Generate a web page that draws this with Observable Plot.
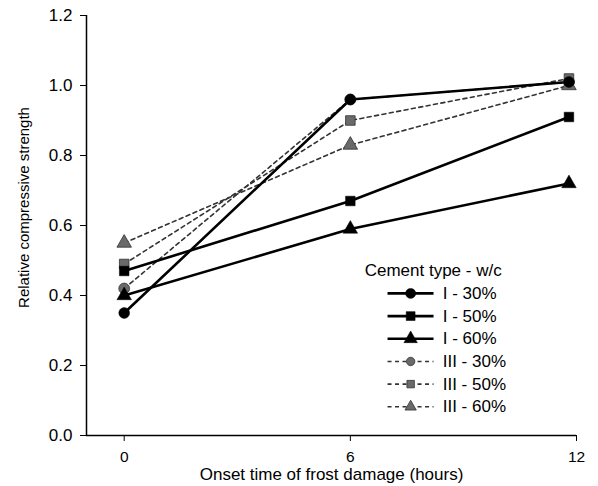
<!DOCTYPE html>
<html><head><meta charset="utf-8">
<script src="https://cdn.jsdelivr.net/npm/d3@7"></script>
<script src="https://cdn.jsdelivr.net/npm/@observablehq/plot@0.6"></script>
<style>body{margin:0;background:#fff;} #chart svg{display:block;}</style>
</head><body><div id="chart"></div>
<script>
// ---- data ----
const times = [0, 6, 11.8];
const seriesNames = ["I - 30%", "I - 50%", "I - 60%", "III - 30%", "III - 50%", "III - 60%"];
const cementTypes = ["I", "I", "I", "III", "III", "III"];
const symbols = ["circle", "square", "triangle", "circle", "square", "triangle"];
const typeI_30 = [0.35, 0.96, 1.01];
const typeI_50 = [0.47, 0.67, 0.91];
const typeI_60 = [0.40, 0.59, 0.72];
const typeIII_30 = [0.42, 0.96, 1.01];
const typeIII_50 = [0.49, 0.90, 1.02];
const typeIII_60 = [0.55, 0.83, 1.00];
const yTicks = [0, 0.2, 0.4, 0.6, 0.8, 1.0, 1.2];
const xTicks = [0, 6, 12];
const yLabel = "Relative compressive strength";
const xLabel = "Onset time of frost damage (hours)";
const legendTitle = "Cement type - w/c";

// ---- build table ----
const seriesValues = [typeI_30, typeI_50, typeI_60, typeIII_30, typeIII_50, typeIII_60];
const rows = [];
seriesNames.forEach((s, i) => {
  seriesValues[i].forEach((v, j) => rows.push({series: s, type: cementTypes[i], symbol: symbols[i], t: times[j], v}));
});
const rowsI = rows.filter(d => d.type === "I");
const rowsIII = rows.filter(d => d.type === "III");

// legend rows (placed in data space)
const legendRows = seriesNames.map((s, i) => ({series: s, type: cementTypes[i], symbol: symbols[i], ly: 0.406 - i * 0.0648}));
const legI = legendRows.filter(d => d.type === "I");
const legIII = legendRows.filter(d => d.type === "III");

const solid = {stroke: "#000", strokeWidth: 2.6};
const dashed = {stroke: "#333", strokeWidth: 1.6, strokeDasharray: "4,3.5"};
const markI = {fill: "#000", stroke: "#000", strokeWidth: 0.5};
const markIII = {fill: "#6a6a6a", stroke: "#333", strokeWidth: 0.8};
const FS = 17;

const chart = Plot.plot({
  width: 598, height: 486,
  marginLeft: 86, marginRight: 22, marginTop: 15, marginBottom: 51,
  style: {fontFamily: "'Liberation Sans', Arial, sans-serif", fontSize: FS + "px", color: "#000", background: "#fff"},
  x: {domain: [-1, 12]},
  y: {domain: [0, 1.2]},
  symbol: {domain: ["circle", "square", "triangle"], range: ["circle", "square", "triangle"]},
  marks: [
    Plot.ruleX([-1], {y1: 0, y2: 1.2, stroke: "#000", strokeWidth: 1.5}),
    Plot.ruleY([0], {x1: -1, x2: 12, stroke: "#000", strokeWidth: 1.5}),
    Plot.axisY(yTicks, {tickSize: 6, tickPadding: 8, tickFormat: d => d.toFixed(1), label: null, fontSize: FS}),
    Plot.axisX(xTicks, {tickSize: 6, tickPadding: 9, label: null, fontSize: 15.5}),
    Plot.text([yLabel], {frameAnchor: "left", textAnchor: "middle", lineAnchor: "middle", rotate: -90, dx: -62, dy: -18, fontSize: 15}),
    Plot.text([xLabel], {frameAnchor: "bottom", textAnchor: "middle", lineAnchor: "middle", dy: 39, fontSize: FS}),
    // data lines
    Plot.line(rowsIII, {x: "t", y: "v", z: "series", ...dashed}),
    Plot.line(rowsI, {x: "t", y: "v", z: "series", ...solid}),
    Plot.dot(rowsIII, {x: "t", y: "v", symbol: "symbol", r: 5.4, ...markIII}),
    Plot.dot(rowsI, {x: "t", y: "v", symbol: "symbol", r: 5.4, ...markI}),
    // legend
    Plot.text([legendTitle], {x: 6.38, y: 0.471, textAnchor: "start", fontSize: FS}),
    Plot.ruleY(legI, {y: "ly", x1: 7.0, x2: 8.22, ...solid}),
    Plot.ruleY(legIII, {y: "ly", x1: 7.0, x2: 8.22, ...dashed}),
    Plot.dot(legIII, {x: 7.6, y: "ly", symbol: "symbol", r: 4.2, ...markIII}),
    Plot.dot(legI, {x: 7.6, y: "ly", symbol: "symbol", r: 5, ...markI}),
    Plot.text(legendRows, {x: 8.45, y: "ly", text: "series", textAnchor: "start", fontSize: FS})
  ]
});
document.getElementById("chart").appendChild(chart);
</script>
</body></html>
